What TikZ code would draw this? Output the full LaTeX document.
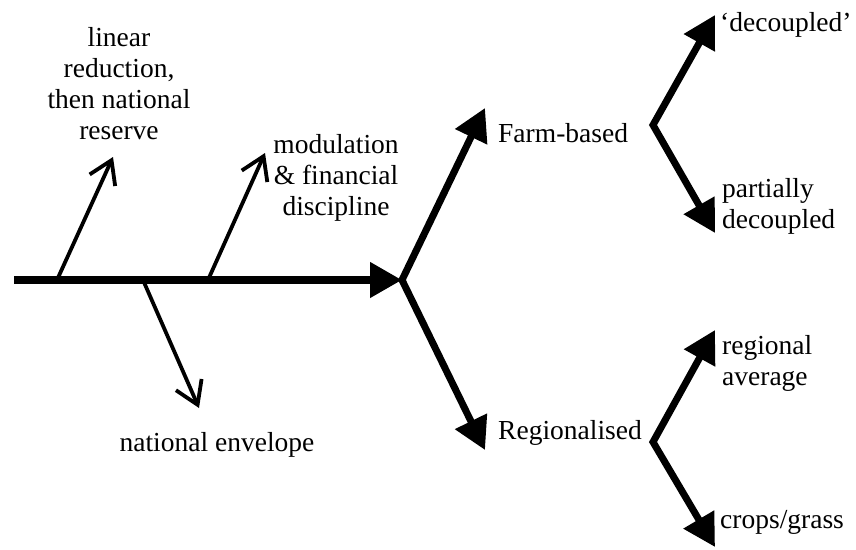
\documentclass[tikz,border=0pt]{standalone}
\usepackage{fontspec}
\setmainfont{Liberation Serif}
\usetikzlibrary{arrows.meta}
\begin{document}
\begin{tikzpicture}[x=1pt,y=-1pt,
  lbl/.style={inner sep=0pt,font=\fontsize{27.5}{31}\selectfont,align=center},
  thick arrow/.style={line width=7.5pt,-{Triangle[length=32pt,width=34pt]}},
  fork/.style={line width=7pt,miter limit=10,{Triangle[length=32pt,width=34pt]}-{Triangle[length=32pt,width=34pt]}},
  thin arrow/.style={line width=3.8pt,-{Straight Barb[length=22pt,width=28pt]}}]
\useasboundingbox (0,0) rectangle (856,549);
% spine
\coordinate (s0) at (14,280);
\coordinate (j) at (402,280);
\coordinate (b1) at (57,280);
\coordinate (b2) at (208,280);
\coordinate (b3) at (143,280);
\coordinate (t1) at (113,157);
\coordinate (t2) at (265,153);
\coordinate (t3) at (199,408);
\coordinate (fu) at (485,108);
\coordinate (fd) at (485,450);
\coordinate (v1) at (653,125);
\coordinate (v1u) at (715,15);
\coordinate (v1d) at (715,233);
\coordinate (v2) at (653,442);
\coordinate (v2u) at (715,330);
\coordinate (v2d) at (715,547);
% labels
\node[lbl] (lin) at (119,84) {linear\\reduction,\\then national\\reserve};
\node[lbl] (mod) at (336,178) {modulation\\\&\ financial\\discipline};
\node[lbl] (env) at (217,445) {national envelope};
\node[lbl,anchor=west] (farm) at (498,133) {Farm-based};
\node[lbl,anchor=west] (reg) at (498,433) {Regionalised};
\node[lbl,anchor=west] (dec) at (720,25) {`decoupled'};
\node[lbl,anchor=west,align=left] (pdec) at (722,206) {partially\\decoupled};
\node[lbl,anchor=west,align=left] (ravg) at (722,363) {regional\\average};
\node[lbl,anchor=west] (crops) at (720,522) {crops/grass};
% connectors
\draw[thin arrow] (b1) -- (t1);
\draw[thin arrow] (b2) -- (t2);
\draw[thin arrow] (b3) -- (t3);
\draw[thick arrow] (s0) -- (j);
\draw[fork] (fu) -- (j) -- (fd);
\draw[fork] (v1u) -- (v1) -- (v1d);
\draw[fork] (v2u) -- (v2) -- (v2d);
\end{tikzpicture}
\end{document}
